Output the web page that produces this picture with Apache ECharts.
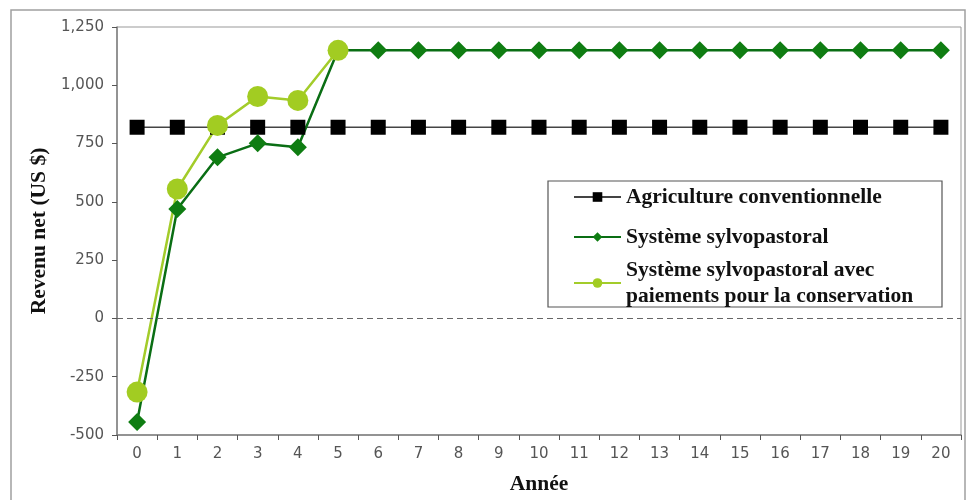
<!DOCTYPE html>
<html><head><meta charset="utf-8">
<script src="https://cdn.jsdelivr.net/npm/echarts@6/dist/echarts.min.js"></script>
<style>html,body{margin:0;padding:0;background:#fff}#c{width:975px;height:500px}</style>
</head><body><div id="c"></div>
<script>
const years = ['0','1','2','3','4','5','6','7','8','9','10','11','12','13','14','15','16','17','18','19','20'];
const agriculture = [820,820,820,820,820,820,820,820,820,820,820,820,820,820,820,820,820,820,820,820,820];
const sylvo = [-444,469,691,751,734,1150,1150,1150,1150,1150,1150,1150,1150,1150,1150,1150,1150,1150,1150,1150,1150];
const paiements = [-316,555,828,952,935,1150,null,null,null,null,null,null,null,null,null,null,null,null,null,null,null];
const names = ['Agriculture conventionnelle','Système sylvopastoral','Système sylvopastoral avec\npaiements pour la conservation'];
const yTicks = {min:-500, max:1250, step:250};

const chart = echarts.init(document.getElementById('c'));
const serif = 'Liberation Serif';
const fs = 21.5;
chart.setOption({
  animation:false,
  backgroundColor:'#fff',
  graphic:[
    {type:'rect', shape:{x:11,y:10,width:954,height:520}, style:{fill:'none',stroke:'#a0a0a0',lineWidth:1.5}, z:-10},
    {type:'rect', shape:{x:548,y:181,width:394,height:126}, style:{fill:'#fff',stroke:'#555',lineWidth:1.2}, z:5}
  ],
  grid:{left:117, top:27, right:14, bottom:63, show:true, borderColor:'#999', borderWidth:1},
  legend:{
    orient:'vertical', left:573, top:177, padding:0, itemGap:0, itemWidth:47, itemHeight:12, z:10,
    data:[
      {name:names[0], textStyle:{lineHeight:40}},
      {name:names[1], textStyle:{lineHeight:40}},
      {name:names[2], textStyle:{lineHeight:26}}
    ],
    textStyle:{fontFamily:serif, fontWeight:'bold', fontSize:fs, color:'#111'}
  },
  xAxis:{type:'category', data:years, boundaryGap:true,
    name:'Année', nameLocation:'middle', nameGap:38,
    nameTextStyle:{fontFamily:serif,fontWeight:'bold',fontSize:fs,color:'#111'},
    axisLine:{onZero:false,lineStyle:{color:'#808080',width:1.5}},
    axisTick:{show:true,inside:false,length:5,lineStyle:{color:'#555'}},
    axisLabel:{fontFamily:'DejaVu Sans',fontSize:15,color:'#555',margin:12}},
  yAxis:{type:'value', min:yTicks.min, max:yTicks.max, interval:yTicks.step,
    name:'Revenu net (US $)', nameLocation:'middle', nameGap:61, nameRotate:90,
    nameTextStyle:{fontFamily:serif,fontWeight:'bold',fontSize:fs,color:'#111'},
    axisLine:{show:true,lineStyle:{color:'#808080',width:1.5}},
    axisTick:{show:true,inside:false,length:5,lineStyle:{color:'#555'}},
    splitLine:{show:false},
    axisLabel:{fontFamily:'DejaVu Sans',fontSize:15,color:'#555',margin:13,
      formatter:function(v){return v.toLocaleString('en-US');}}},
  series:[
    {name:names[0], type:'line', data:agriculture, symbol:'rect', symbolSize:15,
     lineStyle:{color:'#444',width:1.3}, itemStyle:{color:'#000'},
     markLine:{silent:true, symbol:'none', label:{show:false},
       lineStyle:{color:'#666',type:[6,4],width:1.2}, data:[{yAxis:0}]}},
    {name:names[1], type:'line', data:sylvo, symbol:'diamond', symbolSize:18,
     lineStyle:{color:'#0a6e14',width:2.5}, itemStyle:{color:'#0f7d12'}},
    {name:names[2], type:'line', data:paiements, symbol:'circle', symbolSize:21,
     lineStyle:{color:'#a3cc2a',width:2.5}, itemStyle:{color:'#a2cc22'}}
  ]
});
</script></body></html>
